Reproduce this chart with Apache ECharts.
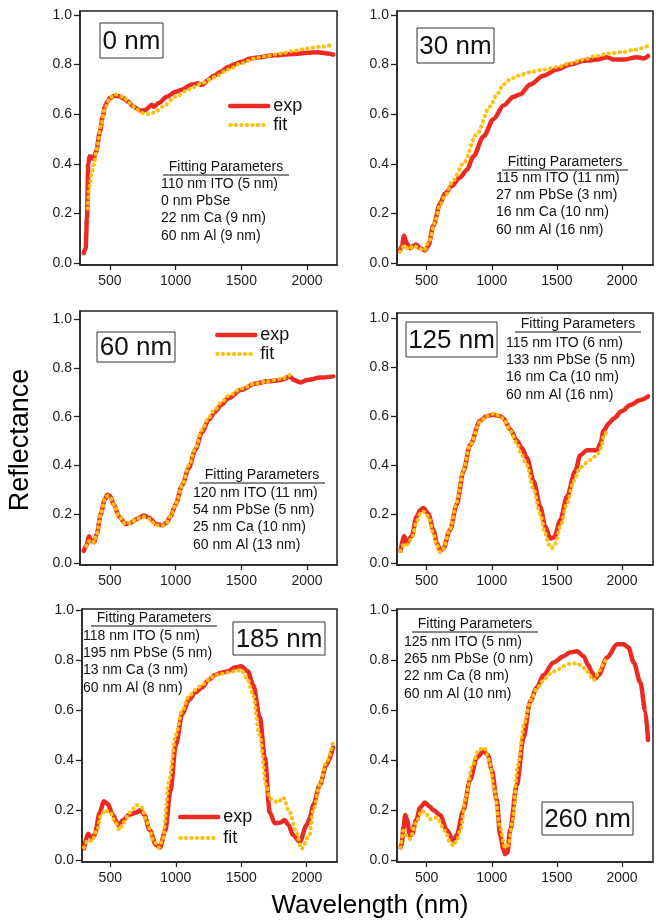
<!DOCTYPE html>
<html><head><meta charset="utf-8">
<script src="https://cdn.jsdelivr.net/npm/echarts@6/dist/echarts.min.js"></script>
<style>html,body{margin:0;padding:0;background:#fff}#c{width:659px;height:922px}</style>
</head><body><div id="c"></div>
<script>
// ---------- DATA ----------
const xTickValues = [500, 1000, 1500, 2000];
const yTickValues = [0, 0.2, 0.4, 0.6, 0.8, 1.0];
const seriesNames = ['exp', 'fit'];
const panelLabels = ['0 nm', '30 nm', '60 nm', '125 nm', '185 nm', '260 nm'];
const paramTitle = 'Fitting Parameters';
const params1 = ['110 nm ITO (5 nm)', '0 nm PbSe', '22 nm Ca (9 nm)', '60 nm Al (9 nm)'];
const params2 = ['115 nm ITO (11 nm)', '27 nm PbSe (3 nm)', '16 nm Ca (10 nm)', '60 nm Al (16 nm)'];
const params3 = ['120 nm ITO (11 nm)', '54 nm PbSe (5 nm)', '25 nm Ca (10 nm)', '60 nm Al (13 nm)'];
const params4 = ['115 nm ITO (6 nm)', '133 nm PbSe (5 nm)', '16 nm Ca (10 nm)', '60 nm Al (16 nm)'];
const params5 = ['118 nm ITO (5 nm)', '195 nm PbSe (5 nm)', '13 nm Ca (3 nm)', '60 nm Al (8 nm)'];
const params6 = ['125 nm ITO (5 nm)', '265 nm PbSe (0 nm)', '22 nm Ca (8 nm)', '60 nm Al (10 nm)'];
const xAxisTitle = 'Wavelength (nm)';
const yAxisTitle = 'Reflectance';

// Panel 1 (0 nm)
const p1ExpX = [300,315,325,335,345,375,395,424,445,462,480,500,538,570,602,640,678,729,760,780,800,818,835,870,933,1000,1050,1123,1174,1190,1210,1238,1290,1340,1400,1442,1500,1569,1650,1700,1760,1823,1900,1950,2000,2077,2154,2200];
const p1ExpY = [0.04,0.06,0.18,0.40,0.43,0.42,0.45,0.53,0.59,0.63,0.65,0.665,0.675,0.672,0.665,0.65,0.63,0.615,0.615,0.62,0.63,0.638,0.63,0.645,0.67,0.69,0.70,0.72,0.725,0.718,0.72,0.735,0.755,0.77,0.79,0.80,0.81,0.825,0.83,0.835,0.838,0.84,0.843,0.845,0.848,0.85,0.845,0.84];
const p1FitX = [330,345,360,380,400,430,460,500,540,600,650,700,750,800,850,900,1000,1100,1200,1300,1400,1500,1600,1700,1800,1900,2000,2100,2200];
const p1FitY = [0.22,0.31,0.36,0.40,0.46,0.55,0.62,0.665,0.68,0.67,0.645,0.62,0.605,0.60,0.61,0.63,0.67,0.70,0.725,0.75,0.78,0.805,0.825,0.835,0.845,0.855,0.865,0.872,0.88];

// Panel 2 (30 nm)
const p2ExpX = [295,310,326,346,372,400,418,449,470,487,513,551,603,641,692,756,808,859,936,1013,1090,1167,1218,1295,1397,1500,1603,1705,1808,1885,1936,2013,2115,2167,2200];
const p2ExpY = [0.05,0.07,0.11,0.08,0.06,0.07,0.075,0.06,0.055,0.05,0.07,0.15,0.24,0.28,0.31,0.345,0.375,0.43,0.51,0.58,0.635,0.67,0.68,0.72,0.755,0.78,0.80,0.815,0.82,0.83,0.82,0.82,0.83,0.825,0.835];
const p2FitX = [295,330,360,400,440,480,520,560,600,640,700,780,885,985,1040,1090,1141,1200,1300,1400,1500,1600,1700,1800,1900,2000,2100,2200];
const p2FitY = [0.045,0.07,0.055,0.07,0.06,0.05,0.09,0.16,0.23,0.27,0.33,0.40,0.52,0.63,0.68,0.72,0.74,0.755,0.77,0.78,0.79,0.805,0.82,0.835,0.845,0.85,0.86,0.875];

// Panel 3 (60 nm)
const p3ExpX = [300,320,340,360,380,400,430,460,480,500,530,570,620,660,700,760,800,850,900,930,960,1000,1050,1100,1150,1200,1250,1300,1350,1400,1500,1600,1700,1800,1870,1900,1950,2000,2100,2200];
const p3ExpY = [0.05,0.07,0.11,0.09,0.085,0.12,0.20,0.26,0.28,0.275,0.24,0.19,0.16,0.165,0.18,0.195,0.185,0.16,0.155,0.165,0.19,0.24,0.32,0.39,0.465,0.535,0.585,0.62,0.65,0.675,0.71,0.735,0.745,0.75,0.765,0.75,0.74,0.75,0.76,0.765];
const p3FitX = [320,340,360,380,400,430,460,480,500,530,570,620,660,700,760,800,850,900,930,960,1000,1050,1100,1150,1200,1250,1300,1350,1400,1500,1600,1700,1800,1880];
const p3FitY = [0.07,0.09,0.095,0.085,0.12,0.20,0.26,0.275,0.27,0.24,0.19,0.16,0.165,0.18,0.19,0.18,0.155,0.155,0.165,0.19,0.24,0.32,0.40,0.47,0.545,0.595,0.63,0.66,0.685,0.715,0.735,0.745,0.755,0.775];

// Panel 4 (125 nm)
const p4ExpX = [300,326,346,385,423,450,474,513,551,580,603,628,679,731,782,833,910,960,1013,1060,1090,1141,1192,1230,1269,1321,1372,1410,1449,1480,1526,1577,1641,1679,1731,1780,1808,1835,1859,1900,1936,2000,2064,2141,2200];
const p4ExpY = [0.05,0.11,0.08,0.11,0.19,0.215,0.225,0.20,0.135,0.08,0.05,0.06,0.135,0.24,0.375,0.48,0.58,0.60,0.605,0.60,0.59,0.545,0.50,0.47,0.43,0.335,0.23,0.15,0.10,0.105,0.175,0.27,0.375,0.44,0.46,0.46,0.46,0.49,0.54,0.57,0.59,0.62,0.645,0.665,0.68];
const p4FitX = [300,330,350,385,423,450,474,513,551,580,603,628,679,731,782,833,910,960,1020,1060,1100,1141,1192,1230,1269,1321,1372,1410,1440,1460,1490,1526,1577,1628,1679,1756,1808,1840,1860,1885];
const p4FitY = [0.05,0.08,0.075,0.10,0.17,0.20,0.21,0.19,0.12,0.07,0.045,0.06,0.14,0.25,0.38,0.48,0.575,0.60,0.61,0.60,0.58,0.54,0.49,0.44,0.40,0.30,0.20,0.12,0.075,0.06,0.08,0.15,0.24,0.335,0.39,0.42,0.44,0.47,0.52,0.54];

// Panel 5 (185 nm)
const p5ExpX = [300,330,360,380,420,450,480,520,560,600,640,700,730,760,800,850,880,920,960,1000,1050,1100,1150,1200,1250,1300,1350,1400,1450,1500,1550,1591,1642,1680,1718,1756,1800,1832,1860,1896,1947,2000,2023,2050,2100,2150,2200];
const p5ExpY = [0.047,0.105,0.09,0.10,0.19,0.235,0.225,0.18,0.14,0.16,0.18,0.19,0.20,0.18,0.12,0.06,0.05,0.12,0.28,0.46,0.585,0.64,0.67,0.69,0.72,0.74,0.75,0.755,0.77,0.775,0.755,0.70,0.57,0.41,0.19,0.147,0.15,0.16,0.14,0.10,0.073,0.14,0.167,0.22,0.30,0.38,0.45];
const p5FitX = [300,330,360,400,430,460,500,540,570,600,650,700,740,780,830,870,900,950,1000,1050,1100,1150,1200,1250,1300,1350,1400,1450,1500,1550,1590,1640,1690,1720,1780,1820,1870,1920,1960,2020,2050,2100,2150,2200];
const p5FitY = [0.05,0.08,0.075,0.12,0.18,0.20,0.19,0.15,0.12,0.15,0.19,0.22,0.21,0.15,0.08,0.05,0.08,0.32,0.50,0.60,0.655,0.68,0.70,0.72,0.74,0.745,0.75,0.755,0.76,0.72,0.66,0.50,0.30,0.245,0.23,0.25,0.19,0.11,0.045,0.10,0.20,0.30,0.39,0.47];

// Panel 6 (260 nm)
const p6ExpX = [300,308,322,335,350,370,385,420,450,487,520,551,603,654,705,731,782,833,885,936,970,1000,1038,1064,1090,1103,1120,1141,1192,1244,1295,1346,1397,1474,1551,1600,1654,1705,1740,1770,1795,1820,1885,1962,2013,2050,2090,2141,2179,2200];
const p6ExpY = [0.05,0.064,0.13,0.18,0.16,0.10,0.10,0.16,0.21,0.23,0.215,0.20,0.18,0.12,0.077,0.10,0.20,0.32,0.41,0.435,0.42,0.36,0.24,0.10,0.04,0.024,0.03,0.12,0.30,0.49,0.635,0.69,0.74,0.79,0.815,0.83,0.835,0.815,0.78,0.75,0.725,0.74,0.81,0.863,0.863,0.85,0.79,0.71,0.595,0.48];
const p6FitX = [300,321,340,372,420,462,490,526,577,641,680,705,731,760,800,850,900,940,980,1020,1060,1100,1130,1160,1200,1250,1300,1350,1400,1450,1500,1550,1600,1654,1700,1731,1782,1833,1860,1885];
const p6FitY = [0.05,0.117,0.10,0.084,0.15,0.197,0.19,0.163,0.17,0.117,0.07,0.057,0.077,0.12,0.25,0.38,0.44,0.45,0.40,0.28,0.14,0.05,0.06,0.16,0.38,0.55,0.64,0.69,0.72,0.745,0.76,0.775,0.785,0.787,0.77,0.754,0.72,0.76,0.79,0.814];

// ---------- LAYOUT / STYLE ----------
const FONT = '"Liberation Sans", Arial, Helvetica, sans-serif';
const RED = '#EC2A21', YEL = '#FDBF12', INK = '#1c1c1c';
const EXP_LINE = {color: RED, width: 4.5, cap: 'round', join: 'round'};
const FIT_LINE = {color: YEL, width: 4, type: [0.5, 5], cap: 'round'};
const panels = [
  {ex: p1ExpX, ey: p1ExpY, fx: p1FitX, fy: p1FitY, params: params1},
  {ex: p2ExpX, ey: p2ExpY, fx: p2FitX, fy: p2FitY, params: params2},
  {ex: p3ExpX, ey: p3ExpY, fx: p3FitX, fy: p3FitY, params: params3},
  {ex: p4ExpX, ey: p4ExpY, fx: p4FitX, fy: p4FitY, params: params4},
  {ex: p5ExpX, ey: p5ExpY, fx: p5FitX, fy: p5FitY, params: params5},
  {ex: p6ExpX, ey: p6ExpY, fx: p6FitX, fy: p6FitY, params: params6}
];
const layout = [
  {left: 80,  top: 11,  width: 257, height: 254, xMin: 272, xMax: 2228, yMin: -0.008, yMax: 1.016,
   box: [100, 23, 163, 58], pt: [226, 167], pl: [161, 184]},
  {left: 397, top: 11,  width: 256, height: 254, xMin: 272, xMax: 2238, yMin: -0.008, yMax: 1.016,
   box: [417, 28, 494, 63], pt: [565, 162], pl: [496, 178]},
  {left: 80,  top: 311, width: 257, height: 254, xMin: 272, xMax: 2228, yMin: -0.008, yMax: 1.033,
   box: [97, 332, 175, 362], pt: [262, 475], pl: [193, 493]},
  {left: 397, top: 313, width: 256, height: 252, xMin: 272, xMax: 2238, yMin: -0.008, yMax: 1.02,
   box: [406, 322, 497, 357], pt: [578, 324], pl: [506, 343]},
  {left: 82,  top: 609, width: 255, height: 253, xMin: 284, xMax: 2231, yMin: -0.008, yMax: 1.004,
   box: [233, 622, 325, 655], pt: [154, 618], pl: [83, 636]},
  {left: 397, top: 609, width: 256, height: 253, xMin: 272, xMax: 2238, yMin: -0.008, yMax: 1.004,
   box: [542, 802, 633, 835], pt: [475, 624], pl: [404, 642]}
];
const LINE_GAP = 17.3;

const zip = (xs, ys) => xs.map((x, i) => [x, ys[i]]);

const grid = [], xAxis = [], yAxis = [], series = [], graphic = [];
panels.forEach((p, i) => {
  const L = layout[i];
  grid.push({left: L.left, top: L.top, width: L.width, height: L.height, show: true,
             borderColor: '#222', borderWidth: 1.5, backgroundColor: 'transparent', containLabel: false});
  xAxis.push({type: 'value', gridIndex: i, min: L.xMin, max: L.xMax,
    axisLine: {show: true, onZero: false, lineStyle: {color: '#222', width: 1.5}},
    axisTick: {show: true, length: 5, customValues: xTickValues, lineStyle: {color: '#222', width: 1.3}},
    axisLabel: {customValues: xTickValues, fontSize: 14, color: INK, fontFamily: FONT, margin: 9,
                formatter: v => String(v)},
    splitLine: {show: false}});
  yAxis.push({type: 'value', gridIndex: i, min: L.yMin, max: L.yMax,
    axisLine: {show: true, onZero: false, lineStyle: {color: '#222', width: 1.5}},
    axisTick: {show: true, length: 6, customValues: yTickValues, lineStyle: {color: '#222', width: 1.3}},
    axisLabel: {customValues: yTickValues, fontSize: 14, color: INK, fontFamily: FONT, margin: 8,
                formatter: v => v.toFixed(1)},
    splitLine: {show: false}});
  series.push({name: seriesNames[0], type: 'line', xAxisIndex: i, yAxisIndex: i,
    data: zip(p.ex, p.ey), showSymbol: false, symbol: 'none', smooth: 0.3, smoothMonotone: 'x',
    lineStyle: EXP_LINE, itemStyle: {color: RED}, z: 2});
  series.push({name: seriesNames[1], type: 'line', xAxisIndex: i, yAxisIndex: i,
    data: zip(p.fx, p.fy), showSymbol: false, symbol: 'none', smooth: 0.3, smoothMonotone: 'x',
    lineStyle: FIT_LINE, itemStyle: {color: YEL}, z: 3});

  // boxed panel label
  const b = L.box;
  graphic.push({type: 'rect', shape: {x: b[0], y: b[1], width: b[2] - b[0], height: b[3] - b[1]},
    style: {fill: '#fff', stroke: '#333', lineWidth: 1}, z: 10});
  graphic.push({type: 'text', x: (b[0] + b[2]) / 2, y: (b[1] + b[3]) / 2 + 1, z: 11,
    style: {text: panelLabels[i], font: '26px ' + FONT, fill: '#111', textAlign: 'center', textVerticalAlign: 'middle'}});
  // fitting parameters
  graphic.push({type: 'text', x: L.pt[0], y: L.pt[1], z: 11,
    style: {text: paramTitle, font: '14px ' + FONT, fill: '#111', textAlign: 'center', textVerticalAlign: 'middle'}});
  graphic.push({type: 'line', shape: {x1: L.pt[0] - 63, y1: L.pt[1] + 8, x2: L.pt[0] + 63, y2: L.pt[1] + 8},
    style: {stroke: '#111', lineWidth: 1}, z: 11});
  p.params.forEach((t, k) => {
    graphic.push({type: 'text', x: L.pl[0], y: L.pl[1] + k * LINE_GAP, z: 11,
      style: {text: t, font: '14px ' + FONT, fill: '#111', textAlign: 'left', textVerticalAlign: 'middle'}});
  });
});

graphic.push({type: 'text', x: 370, y: 906, style: {text: xAxisTitle, font: '26px ' + FONT, fill: '#000',
  textAlign: 'center', textVerticalAlign: 'middle'}});
graphic.push({type: 'text', x: 34, y: 440, rotation: Math.PI / 2, style: {text: yAxisTitle, font: '27px ' + FONT,
  fill: '#000', textAlign: 'center', textVerticalAlign: 'bottom'}});

const legendData = [
  {name: seriesNames[0], lineStyle: EXP_LINE},
  {name: seriesNames[1], lineStyle: FIT_LINE}
];
const legendBase = {orient: 'vertical', itemWidth: 38, itemHeight: 12, itemGap: 1, data: legendData,
  selectedMode: false, itemStyle: {opacity: 0, borderWidth: 0},
  textStyle: {fontSize: 18, color: '#111', fontFamily: FONT}};
const legend = [
  Object.assign({}, legendBase, {left: 223, top: 92}),
  Object.assign({}, legendBase, {left: 210, top: 321}),
  Object.assign({}, legendBase, {left: 173, top: 803, itemGap: 3})
];

const chart = echarts.init(document.getElementById('c'), null, {renderer: 'canvas'});
chart.setOption({animation: false, backgroundColor: '#fff', grid, xAxis, yAxis, series, legend, graphic});
</script></body></html>
